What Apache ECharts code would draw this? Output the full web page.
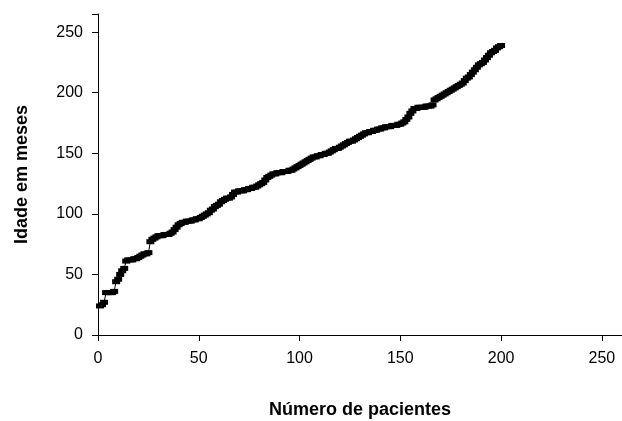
<!DOCTYPE html>
<html>
<head>
<meta charset="utf-8">
<script src="https://cdn.jsdelivr.net/npm/echarts@6/dist/echarts.min.js"></script>
<style>
  html, body { margin: 0; padding: 0; background: #fff; }
  #chart { width: 622px; height: 421px; }
</style>
</head>
<body>
<div id="chart"></div>
<script>
// idade (meses) de cada paciente, ordenada
var idades = [
    24, 25, 27,
    35, 35, 35, 35, 36,
    44, 46,
    50, 53, 55,
    61, 62, 62, 62, 63, 63, 64,
    65, 66, 67, 67, 68,
    77, 79, 80, 81, 82,
    82, 82, 83, 83, 83, 84, 85,
    87, 89, 91, 92,
    93, 93, 94, 94, 94, 95, 95, 96,
    96, 97, 98,
    99, 100, 101, 103, 104, 106, 107, 108,
    110, 111, 112, 113, 113, 114, 116,
    118, 118, 119, 119, 119, 120, 120, 121, 121, 122,
    122, 123, 124, 125, 126,
    128, 130, 131, 132, 133, 133,
    134, 134, 134, 135, 135, 135, 136, 136,
    137, 138, 139, 140, 141, 142, 143,
    144, 145, 146, 147,
    147, 148, 148, 149, 149, 150, 150, 151,
    152, 153, 154, 154, 155, 156, 157,
    158, 159, 160, 160, 161, 162, 163, 164,
    165, 166, 167, 167, 168, 168, 169, 169, 170, 170, 171,
    171, 172, 172, 172, 173, 173, 173, 174, 174, 175,
    176, 178, 180, 183, 185, 187,
    187, 188, 188, 188, 188, 189, 189, 189, 190,
    194, 195, 196, 197, 198, 199,
    200, 201, 202, 203, 204, 205, 206, 207, 208, 210, 212,
    213, 215, 217, 219, 221,
    223, 224, 225, 227, 229, 231,
    233, 234, 235, 237, 238, 239
];
var xTicks = [0, 50, 100, 150, 200, 250];
var yTicks = [0, 50, 100, 150, 200, 250];

var pontos = [];
for (var i = 0; i < idades.length; i++) {
    pontos.push([i + 1, idades[i]]);
}

var fonte = 'Liberation Sans, Arial, Helvetica, sans-serif';
var myChart = echarts.init(document.getElementById('chart'));
var option = {
    animation: false,
    grid: { left: 98, right: 0, top: 14, bottom: 86, containLabel: false, outerBoundsMode: 'none' },
    xAxis: {
        type: 'value',
        min: 0,
        max: 260,
        interval: 50,
        name: 'Número de pacientes',
        nameLocation: 'middle',
        nameGap: 66,
        nameTextStyle: { color: '#000', fontSize: 18, fontWeight: 'bold', fontFamily: fonte },
        axisLine: { onZero: false, lineStyle: { color: '#000', width: 1 } },
        axisTick: { length: 6, lineStyle: { color: '#000' } },
        axisLabel: {
            color: '#000', fontSize: 16, fontFamily: fonte, margin: 16,
            formatter: function (v) { return xTicks.indexOf(v) >= 0 ? String(v) : ''; }
        },
        splitLine: { show: false }
    },
    yAxis: {
        type: 'value',
        min: 0,
        max: 265,
        interval: 50,
        name: 'Idade em meses',
        nameLocation: 'middle',
        nameGap: 67,
        nameTextStyle: { color: '#000', fontSize: 18, fontWeight: 'bold', fontFamily: fonte },
        axisLine: { show: true, onZero: false, lineStyle: { color: '#000', width: 1 } },
        axisTick: { show: true, length: 6, lineStyle: { color: '#000' } },
        axisLabel: {
            color: '#000', fontSize: 16, fontFamily: fonte, margin: 15,
            formatter: function (v) { return yTicks.indexOf(v) >= 0 ? String(v) : ''; }
        },
        splitLine: { show: false }
    },
    series: [{
        type: 'line',
        data: pontos,
        symbol: 'rect',
        symbolSize: [8, 5],
        showAllSymbol: true,
        itemStyle: { color: '#000' },
        lineStyle: { color: '#000', width: 1 }
    }]
};
myChart.setOption(option);
</script>
</body>
</html>
